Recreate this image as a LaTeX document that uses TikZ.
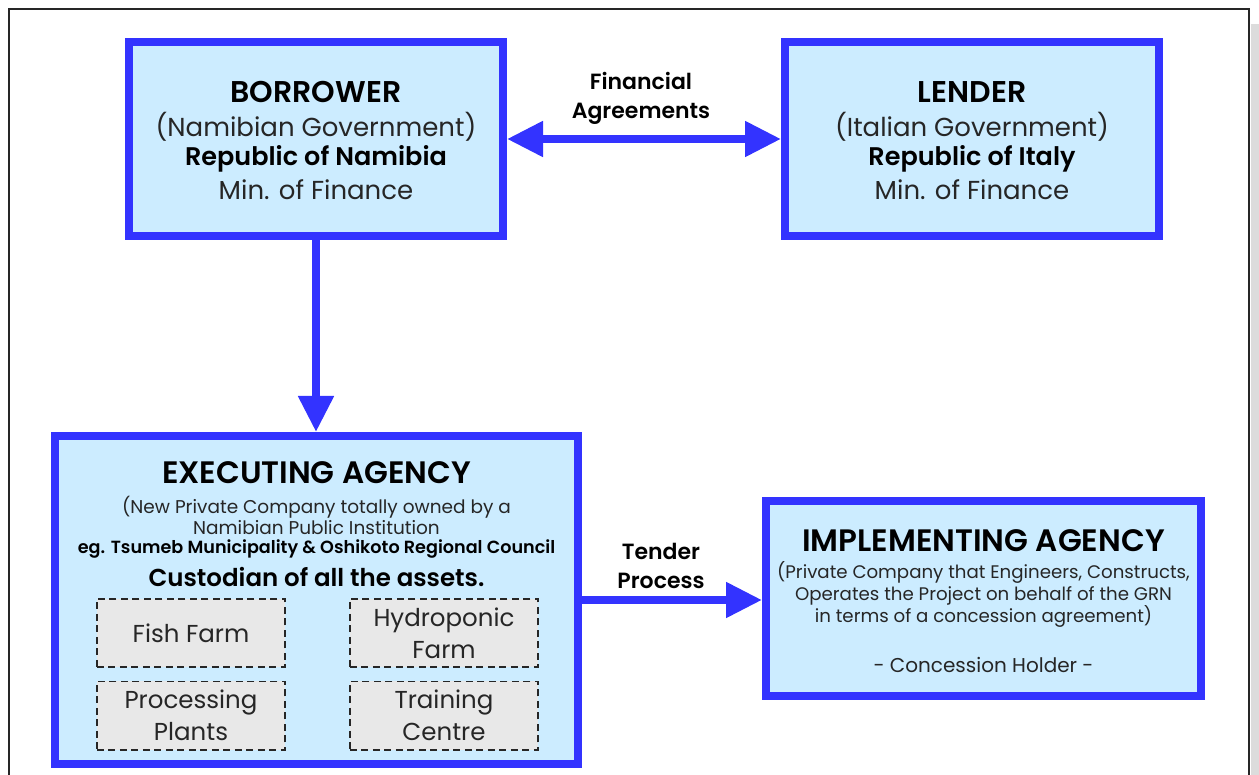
\documentclass[tikz,border=0pt]{standalone}
\usepackage{fontspec}
\setmainfont{Poppins}[BoldFont={Poppins SemiBold}]
\usetikzlibrary{arrows.meta}
\definecolor{bblue}{RGB}{51,51,255}
\definecolor{bfill}{RGB}{204,236,255}
\definecolor{dfill}{RGB}{232,232,232}
\definecolor{shadow}{RGB}{220,220,220}
\tikzset{
  bigbox/.style={draw=bblue, fill=bfill, line width=8pt, inner sep=0pt},
  subbox/.style={draw=black!85, fill=dfill, line width=1.7pt, dash pattern=on 7pt off 4.5pt, inner sep=0pt, minimum width=188.3pt, minimum height=68.3pt, align=center, font=\fontsize{24.5}{32}\selectfont, text=black!85},
  txt/.style={inner sep=0pt, align=center, text=black!85},
  ttl/.style={txt, text=black},
  bigarrow/.style={draw=bblue, line width=8pt, -{Triangle[length=36pt,width=34pt]}, fill=bblue},
  lbl/.style={inner sep=0pt, align=center, font=\fontsize{22}{29}\bfseries\selectfont}
}
\begin{document}
\begin{tikzpicture}[x=1pt,y=-1pt]
\useasboundingbox (0,0) rectangle (1259,775);
\clip (0,0) rectangle (1259,775);
\fill[shadow] (1251,24) rectangle (1259,775);
\draw[line width=1.4pt, black!85] (9,9) rectangle (1249,800);

% boxes
\node[bigbox, minimum width=374pt, minimum height=194pt] (borrower) at (316,139) {};
\node[bigbox, minimum width=374pt, minimum height=194pt] (lender) at (972,139) {};
\node[bigbox, minimum width=523pt, minimum height=328pt] (exec) at (316.5,600) {};
\node[bigbox, minimum width=435pt, minimum height=195pt] (impl) at (983.5,598.5) {};

% borrower text
\node[ttl, font=\fontsize{30}{32}\bfseries\selectfont] (bt1) at (316,92) {BORROWER};
\node[txt, font=\fontsize{26}{28}\selectfont] (bt2) at (316,127) {(Namibian Government)};
\node[txt, font=\fontsize{25.5}{28}\bfseries\selectfont, text=black] (bt3) at (316,159) {Republic of Namibia};
\node[txt, font=\fontsize{26}{28}\selectfont] (bt4) at (316,190) {Min. of Finance};

% lender text
\node[ttl, font=\fontsize{30}{32}\bfseries\selectfont] (lt1) at (972,92) {LENDER};
\node[txt, font=\fontsize{26}{28}\selectfont] (lt2) at (972,127) {(Italian Government)};
\node[txt, font=\fontsize{25.5}{28}\bfseries\selectfont, text=black] (lt3) at (972,159) {Republic of Italy};
\node[txt, font=\fontsize{26}{28}\selectfont] (lt4) at (972,190) {Min. of Finance};

% executing text
\node[ttl, font=\fontsize{31}{32}\bfseries\selectfont] (et1) at (316.5,473) {EXECUTING AGENCY};
\node[txt, font=\fontsize{18.5}{21.5}\selectfont] (et2) at (316.5,515.5) {(New Private Company totally owned by a\\Namibian Public Institution};
\node[txt, font=\fontsize{17.6}{20}\bfseries\selectfont, text=black] (et3) at (316.5,549) {eg. Tsumeb Municipality \& Oshikoto Regional Council};
\node[txt, font=\fontsize{24.5}{26}\bfseries\selectfont, text=black] (et4) at (316.5,577) {Custodian of all the assets.};

% sub boxes
\node[subbox] (fish) at (191,633) {Fish Farm};
\node[subbox] (hydro) at (444,633) {Hydroponic\\Farm};
\node[subbox] (proc) at (191,715.5) {Processing\\Plants};
\node[subbox] (train) at (444,715.5) {Training\\Centre};

% implementing text
\node[ttl, font=\fontsize{31}{32}\bfseries\selectfont] (it1) at (983.5,541) {IMPLEMENTING AGENCY};
\node[txt, font=\fontsize{18.2}{22}\selectfont] (it2) at (983.5,594) {(Private Company that Engineers, Constructs,\\Operates the Project on behalf of the GRN\\in terms of a concession agreement)};
\node[txt, font=\fontsize{20}{22}\selectfont] (it3) at (983.5,665) {- Concession Holder -};

% connectors
\draw[bigarrow, {Triangle[length=36pt,width=34pt]}-{Triangle[length=36pt,width=34pt]}] (borrower.east) -- (lender.west);
\node[lbl] (fa) at (641,98.5) {Financial\\Agreements};
\draw[bigarrow] (borrower.south) -- (borrower.south |- exec.north);
\draw[bigarrow] (exec.east) -- (exec.east -| impl.west);
\node[lbl] (tp) at (661,565.5) {Tender\\Process};
\end{tikzpicture}
\end{document}
